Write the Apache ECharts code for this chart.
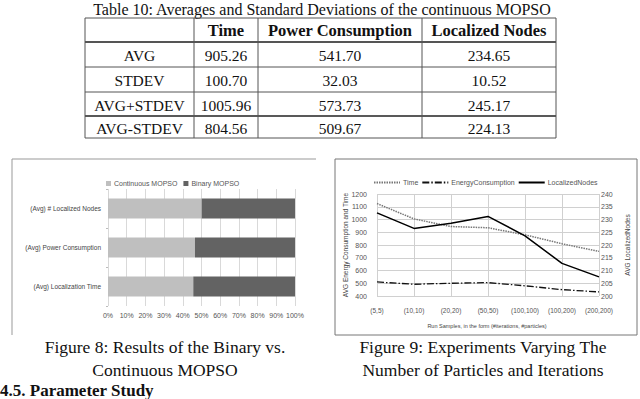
<!DOCTYPE html>
<html>
<head>
<meta charset="utf-8">
<script src="https://cdn.jsdelivr.net/npm/echarts@6/dist/echarts.min.js"></script>
<style>
html,body{margin:0;padding:0;background:#fff;}
#main{width:640px;height:399px;}
</style>
</head>
<body>
<div id="main"></div>
<script>
// ---- Table 10 data ----
var tableTitle = 'Table 10: Averages and Standard Deviations of the continuous MOPSO';
var tableHeader = ['', 'Time', 'Power Consumption', 'Localized Nodes'];
var tableRowLabels = ['AVG', 'STDEV', 'AVG+STDEV', 'AVG-STDEV'];
var tableTime = ['905.26', '100.70', '1005.96', '804.56'];
var tablePower = ['541.70', '32.03', '573.73', '509.67'];
var tableNodes = ['234.65', '10.52', '245.17', '224.13'];

// ---- Figure 8 data (percent of total) ----
var barCategories = ['(Avg) Localization Time', '(Avg) Power Consumption', '(Avg) # Localized Nodes'];
var continuousPct = [45.6, 46.5, 50.1];
var binaryPct = [54.4, 53.5, 49.9];
var barSeriesNames = ['Continuous MOPSO', 'Binary MOPSO'];

// ---- Figure 9 data ----
var runCategories = ['(5,5)', '(10,10)', '(20,20)', '(50,50)', '(100,100)', '(100,200)', '(200,200)'];
var timeValues = [1125, 1005, 945, 935, 880, 810, 750];
var energyValues = [510, 492, 500, 505, 480, 450, 432];
var nodesValues = [232.6, 226.5, 228.5, 231.2, 223.6, 212.8, 207.5];
var lineSeriesNames = ['Time', 'EnergyConsumption', 'LocalizedNodes'];

// ---- captions ----
var caption8 = ['Figure 8: Results of the Binary vs.', 'Continuous MOPSO'];
var caption9 = ['Figure 9: Experiments Varying The', 'Number of Particles and Iterations'];
var sectionHeading = '4.5. Parameter Study';

var serif = '"Liberation Serif", "DejaVu Serif", serif';
var sans = '"Liberation Sans", Arial, sans-serif';

// table geometry
var colX = [85, 194, 258, 422, 556];
var rowY = [18, 42, 67, 92, 116, 138];

var g = [];
function txt(t, x, y, size, opts) {
  opts = opts || {};
  g.push({type: 'text', silent: true, style: {
    text: t, x: x, y: y, fontFamily: opts.family || serif, fontSize: size,
    fontWeight: opts.weight || 'normal', fill: opts.fill || '#111',
    align: opts.align || 'center', verticalAlign: 'middle'
  }});
}
function ln(x1, y1, x2, y2, w, c) {
  g.push({type: 'line', silent: true, shape: {x1: x1, y1: y1, x2: x2, y2: y2},
    style: {stroke: c || '#333', lineWidth: w || 1}});
}
function vtxt(t, x, y, size) {
  g.push({type: 'text', silent: true, rotation: Math.PI / 2, x: x, y: y, style: {
    text: t, x: 0, y: 0, fontFamily: sans, fontSize: size, fill: '#444',
    align: 'center', verticalAlign: 'middle'}});
}
// title
txt(tableTitle, 322, 9, 16);
// table lines
for (var i = 0; i < rowY.length; i++) {
  var w = (i === 1) ? 2 : (i === 4 ? 1.5 : 1);
  ln(colX[0], rowY[i], colX[4], rowY[i], w, i === 4 ? '#222' : '#555');
}
for (var j = 0; j < colX.length; j++) {
  ln(colX[j], rowY[0], colX[j], rowY[5], 1, '#555');
}
// header
for (var j = 1; j < tableHeader.length; j++) {
  txt(tableHeader[j], (colX[j] + colX[j + 1]) / 2, (rowY[0] + rowY[1]) / 2, 16.5, {weight: 'bold'});
}
var cols = [tableRowLabels, tableTime, tablePower, tableNodes];
for (var r = 0; r < 4; r++) {
  for (var c = 0; c < 4; c++) {
    txt(cols[c][r], (colX[c] + colX[c + 1]) / 2, (rowY[r + 1] + rowY[r + 2]) / 2 + 1, 15.5);
  }
}
// figure frames
ln(12, 159, 316, 159, 1, '#999');
ln(12, 159, 12, 335, 1, '#999');
g.push({type: 'rect', silent: true, shape: {x: 335, y: 159, width: 302, height: 176},
  style: {stroke: '#777', lineWidth: 1, fill: 'none'}});
// axis titles for figure 9
vtxt('AVG Energy Consumption and Time', 345, 245, 6.5);
vtxt('AVG LocalizedNodes', 627, 245, 6.5);
txt('Run Samples, in the form (#iterations, #particles)', 487, 326, 5.5, {family: sans, fill: '#444'});
// captions
txt(caption8[0], 165, 347, 17.5);
txt(caption8[1], 165, 370, 17.5);
txt(caption9[0], 483, 347, 17.5);
txt(caption9[1], 483, 370, 17.5);
txt(sectionHeading, 0, 390, 17, {align: 'left', weight: 'bold'});

var chart = echarts.init(document.getElementById('main'), null, {renderer: 'svg'});
var axisLbl = {fontFamily: sans, fontSize: 7, color: '#555'};
var plain = function (v) { return String(v); };
chart.setOption({
  backgroundColor: '#fff',
  animation: false,
  legend: [{
    data: barSeriesNames, left: 101, top: 175, itemWidth: 5, itemHeight: 5, itemGap: 6,
    textStyle: {fontFamily: sans, fontSize: 7, color: '#555', padding: [0, 0, 0, -2]}, icon: 'rect'
  }, {
    data: lineSeriesNames, left: 368, top: 174, itemWidth: 26, itemHeight: 8, itemGap: 3,
    itemStyle: {opacity: 0},
    textStyle: {fontFamily: sans, fontSize: 7, color: '#555', padding: [0, 0, 0, -2]}
  }],
  grid: [
    {left: 108, top: 189, width: 187, height: 117, containLabel: false},
    {left: 377, top: 194, width: 222, height: 102, containLabel: false}
  ],
  xAxis: [{
    gridIndex: 0, type: 'value', min: 0, max: 100, interval: 10,
    axisLabel: Object.assign({formatter: '{value}%', margin: 6}, axisLbl),
    axisLine: {show: false}, axisTick: {show: false},
    splitLine: {lineStyle: {color: '#d9d9d9', width: 1}}
  }, {
    gridIndex: 1, type: 'category', data: runCategories, boundaryGap: false,
    axisLabel: {margin: 11, interval: 0, fontSize: 6.5, fontFamily: sans, color: '#555'},
    axisLine: {show: false}, axisTick: {show: false},
    splitLine: {show: true, lineStyle: {color: '#d0d0d0', width: 1}}
  }],
  yAxis: [{
    gridIndex: 0, type: 'category', data: barCategories,
    axisLabel: Object.assign({margin: 7}, axisLbl, {fontSize: 6.5, color: '#444'}),
    axisLine: {show: false}, axisTick: {show: true, length: 2, lineStyle: {color: '#bbb'}}
  }, {
    gridIndex: 1, type: 'value', min: 400, max: 1200, interval: 100,
    axisLabel: Object.assign({margin: 10, formatter: plain}, axisLbl),
    axisLine: {show: false}, axisTick: {show: false},
    splitLine: {lineStyle: {color: '#d0d0d0', width: 1}}
  }, {
    gridIndex: 1, type: 'value', min: 200, max: 240, interval: 5, position: 'right',
    axisLabel: Object.assign({margin: 2, formatter: plain}, axisLbl),
    axisLine: {show: false}, axisTick: {show: false}, splitLine: {show: false}
  }],
  series: [{
    name: barSeriesNames[0], type: 'bar', stack: 'a', xAxisIndex: 0, yAxisIndex: 0,
    data: continuousPct, barWidth: 20, itemStyle: {color: '#bfbfbf'}
  }, {
    name: barSeriesNames[1], type: 'bar', stack: 'a', xAxisIndex: 0, yAxisIndex: 0,
    data: binaryPct, barWidth: 20, itemStyle: {color: '#636363'}
  }, {
    name: lineSeriesNames[0], type: 'line', xAxisIndex: 1, yAxisIndex: 1, data: timeValues,
    symbol: 'none', showSymbol: false, itemStyle: {color: '#777'}, lineStyle: {color: '#777', width: 1.5, type: [1.5, 1]}
  }, {
    name: lineSeriesNames[1], type: 'line', xAxisIndex: 1, yAxisIndex: 1, data: energyValues,
    symbol: 'none', showSymbol: false, itemStyle: {color: '#111'}, lineStyle: {color: '#111', width: 1.3, type: [7, 2, 1.5, 2]}
  }, {
    name: lineSeriesNames[2], type: 'line', xAxisIndex: 1, yAxisIndex: 2, data: nodesValues,
    symbol: 'none', showSymbol: false, itemStyle: {color: '#000'}, lineStyle: {color: '#000', width: 1.5}
  }],
  graphic: g
});
</script>
</body>
</html>
